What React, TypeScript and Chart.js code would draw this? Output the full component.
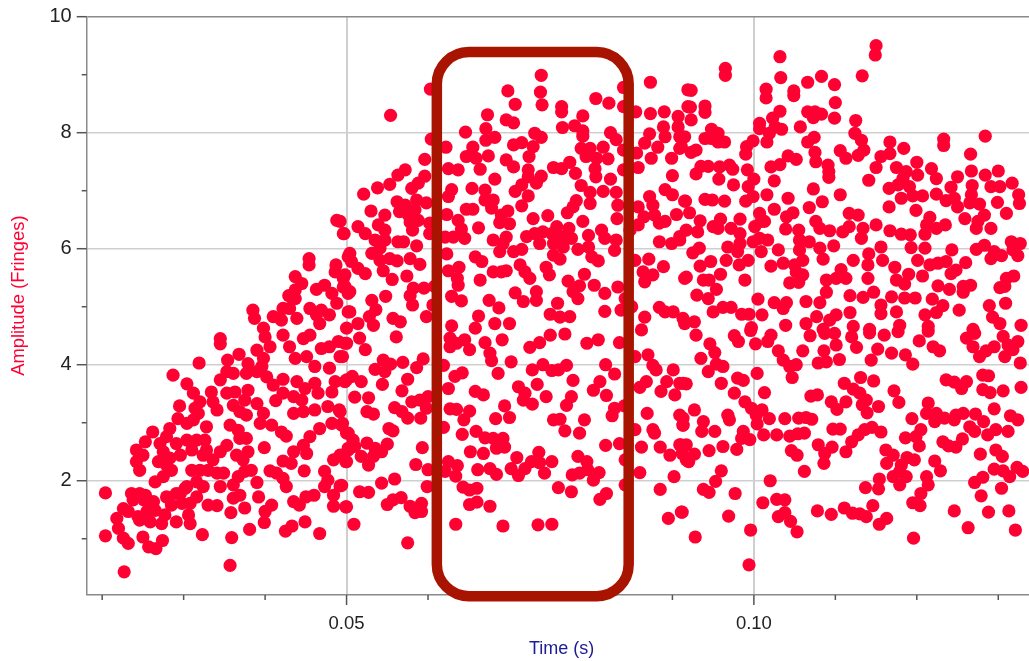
import React, { useEffect, useRef } from "react";
import { Chart, registerables } from "chart.js";

Chart.register(...registerables);

type Sample = [number, number]; // [time in ms, amplitude in fringes]

const risingEdgeLower: Sample[] = [
[20.4,1.79],[20.4,1.05],[22.7,.43],[31.9,4.03],[28.7,3.82],[34.5,4.45],[34.5,4.36],[30.4,3.67],[31.2,3.51],[29.5,3.29],[23.6,1.78],[24.6,1.78],[25.3,1.75],[23.8,1.67],[25.1,1.67],[26.3,1.64],[22.6,1.52],[21.8,1.35],[23.2,1.47],[24.4,1.38],[25.5,1.47],[26.5,1.49],[22,1.18],[22.6,1.01],[23.2,.92],[25,1.03],[25.7,.86],[26.6,.83],[27.4,.97],[24.6,1.32],[25.9,1.29],[27.3,1.26],[27.7,1.41],[27.9,1.72],[29.1,1.78],[30.2,1.87],[28.5,1.58],[29.8,1.61],[30.8,1.61],[31.6,1.72],[29.1,1.29],[30.6,1.41],[30.8,1.26],[32.3,1.07],[33,1.58],[34.1,1.57],[35.8,1.45],[35.9,1.02],[35.7,.54],[38.1,1.16],[37.5,1.53],[36.1,1.7],[36.9,1.75],[39.2,1.72],[40.8,1.58],[40,1.47],[39.9,1.28],[42.5,1.13],[43.3,1.22],[44.9,1.29],[46.7,1.09],[43.5,1.64],[44.2,1.58],[45,1.72],[46,1.75],[48.4,1.56],[50,1.55],[48.4,1.75],[47.3,1.9],[47.7,2.01],[47.3,2.16],[49.2,1.91],[44.8,2.17],[42.6,1.9],[42.2,2.04],[41.4,2.13],[40.6,2.17],[42.2,2.34],[43.2,2.3],[43.5,2.5],[45.1,2.47],[44.7,2.61],[45.5,2.76],[46.7,2.9],[48.2,2.99],[49.4,2.96],[50.2,2.82],[48.4,2.36],[49.2,2.44],[50.2,2.53],[50,2.33],[39.9,2.57],[39,1.97],[38.3,2.18],[37.5,2.16],[36.7,2.07],[36.1,1.93],[34.5,1.9],[34.1,2.13],[34.9,2.13],[33,2.18],[32,2.18],[31,2.18],[33.6,2.36],[34.5,2.5],[35.3,2.61],[36.5,2.44],[37.9,2.5],[37.3,2.36],[37.7,2.73],[36.7,2.87],[35.7,2.96],[36.9,2.73],[32.4,1.9],[31.6,1.98],[30.4,1.9],[29.6,1.78],[27.5,2.07],[26.5,1.98],[28.5,2.18],[24.6,2.18],[24.2,2.33],[24.2,2.53],[25.3,2.67],[26.2,2.84],[25,2.44],[27.1,2.64],[27.9,2.76],[28.3,2.9],[29.3,3.07],[30.4,2.99],[31.2,3.05],[32.8,2.93],[32.6,2.7],[31.6,2.7],[30.4,2.7],[29.1,2.64],[27.5,2.5],[26.9,2.33],[28.3,2.39],[29.6,2.44],[31,2.53],[32.4,2.44],[27.9,2.27],[32.8,2.53],[31.4,3.25],[32,3.36],[31.8,3.16],[33.4,3.53],[33.6,3.36],[34.1,3.22],[35.3,3.88],[35.4,4.08],[36.8,4.18],[34.5,3.74],[36.1,3.85],[37.9,4.02],[39,4.25],[40,4.48],[40.6,4.31],[39.8,4.11],[39.6,3.97],[37.7,3.85],[39,3.88],[40.2,3.79],[41,3.65],[42.2,3.75],[43.9,3.71],[46.1,3.68],[48.6,3.71],[50,3.74],[48.2,3.53],[46.5,3.51],[44.9,3.59],[42.2,3.51],[41.3,3.38],[43.5,3.45],[44.5,3.39],[43.5,3.16],[44.7,3.19],[46.1,3.22],[47.7,3.28],[49.1,3.22],[36.3,3.53],[35.3,3.51],[37.9,3.56],[37.5,3.39],[39,3.33],[36.1,3.3],[36.9,3.19],[37.7,3.13],[39.8,3.16],[39.4,2.99],[40.8,2.96],[42,2.84],[42.6,2.77],[43.7,4.11],[45.1,4.14],[46.1,3.97],[47.9,3.94],[46.9,4.28],[47.9,4.31],[49,4.4],[49.2,4.14],[43,4.31],[42.2,4.51],[44.7,4.45],[45.5,4.51],[50,4.37],
];

const risingEdgeUpper: Sample[] = [
[48.8,6.49],[49.6,6.26],[45.4,5.83],[45.4,5.72],[50.2,5.86],[48.7,5.72],[48.6,5.6],[49.8,5.55],[43.7,5.52],[44.5,5.4],[43.7,5.29],[42.9,5.19],[43.7,5.14],[46.3,5.3],[47.3,5.37],[48.2,5.23],[48.8,5.06],[49.6,5.34],[50.2,5.23],[45.5,4.97],[46.3,4.86],[46.9,4.94],[47.9,4.86],[50.2,4.91],[46.7,4.71],[38.5,4.94],[38.7,4.8],[41,4.83],[42.2,4.97],[43,4.97],[43.9,4.8],[42,4.77],[39.8,4.63],[50,4.63],
];

const middleUpper: Sample[] = [
[55.4,8.3],[60.3,8.75],[60.4,7.89],[73.9,8.99],[73.8,8.7],[74,8.48],[69.8,8.72],[70.7,8.49],[76.4,8.45],[76.4,8.36],[80.6,8.59],[82.2,8.51],[84,8.78],[84,8.45],[87.3,8.87],[79,8.29],[67.3,8.31],[64.6,8.01],[67.1,8.07],[67.1,7.87],[68.2,7.92],[69.6,8.22],[70.5,8.17],[76.5,8.09],[78,8.12],[79,8.03],[79,7.94],[82.4,8],[83.1,7.88],[73.1,7.99],[73.9,7.92],[72.9,7.76],[70.5,7.79],[71.5,7.83],[72.4,7.59],[65.5,7.75],[64.7,7.59],[65.9,7.56],[67.4,7.6],[66.4,7.37],[62.2,7.75],[62.5,7.38],[63.7,7.36],[69.6,7.53],[70.5,7.41],[59.6,7.54],[75.4,7.4],[76.4,7.38],[77.4,7.49],[78.1,7.3],[72.3,7.36],[73.9,7.25],[73.3,7.13],[72.3,7.24],[68.2,7.2],[71.5,7.1],[70.7,6.99],[72.3,6.91],[71.5,6.74],[78.8,7.73],[79.9,7.73],[81.5,7.75],[79.4,7.59],[80.7,7.56],[82.1,7.55],[80.5,7.38],[80.6,7.24],[82.4,7.2],[84,7.7],[84,7.36],[85.8,7.4],[85.6,7.65],[86.6,7.82],[87.2,7.98],[87.4,7.56],[88.2,7.75],[88.9,8.1],[89.1,7.93],[90.7,8.28],[90.7,8.1],[90.9,7.93],[89.9,7.56],[90.9,7.73],[85.5,8.36],[87.3,8.33],[89,8.36],[91.9,8.74],[91.9,8.45],[90,7.26],[89.1,7.02],[90,6.93],[91.5,6.82],[87.2,6.9],[87.6,6.75],[87.8,6.58],[89.1,6.47],[90.5,6.59],[88.4,6.44],[85.8,6.72],[85.8,6.41],[86.5,6.55],[88.4,6.12],[89.9,6.09],[90.9,6.21],[83.3,6.75],[83.2,6.52],[81.5,6.99],[83.1,6.97],[78.8,7.09],[79.9,6.97],[79.9,6.78],[78.2,6.83],[77.8,6.72],[77.1,6.62],[79,6.47],[74.7,6.57],[72.9,6.52],[67,7.01],[65.4,7.04],[68,6.84],[62.9,7.02],[62.5,6.9],[64.7,6.68],[65.5,6.68],[67,6.84],[67.8,6.7],[69.8,6.65],[69,6.58],[68.8,6.45],[70,6.43],[62.3,6.59],[63.7,6.49],[66.2,6.36],[64.1,6.34],[64.5,6.18],[63.1,6.2],[62.1,6.2],[69.6,6.2],[68,6.15],[68.8,5.95],[69.2,6.09],[70.5,5.95],[71.5,5.99],[72.1,6.21],[73.1,6.26],[74.1,6.29],[73.7,6.09],[75.2,6.26],[75.8,6.38],[77.3,6.35],[76.4,6.21],[77.6,6.18],[75.4,6.09],[76.6,6.03],[75.4,5.89],[76.2,5.82],[78.4,5.99],[79.7,6.03],[79.7,6.23],[81.3,6.32],[81.7,6.18],[82.9,5.97],[83.1,6.15],[80.1,5.86],[80.9,5.79],[84.8,6.32],[62.3,5.91],[65.8,5.86],[66.6,5.78],[62.5,5.62],[63.8,5.68],[63.6,5.49],[63.7,5.37],[68,5.6],[69,5.6],[69.6,5.62],[66.4,5.46],[71.3,5.72],[71.9,5.6],[72.5,5.49],[74.5,5.68],[74.9,5.55],[77.2,5.44],[79.2,5.56],[78.6,5.36],[77.8,5.26],[78.4,5.14],[80.4,5.37],[81.7,5.23],[83.3,5.34],[84.2,5.14],[62.9,5.18],[64.1,5.1],[70.7,5.24],[71.7,5.09],[73.3,5.26],[73.3,5.11],[67.5,5.11],[68.7,4.98],[75.9,5.06],[75,4.87],[77.4,4.83],[76.2,4.82],[66.2,4.84],[81.7,4.92],[83.7,4.94],[85,5],[86.6,4.82],[88.4,4.99],[90.1,4.91],[89.1,4.91],[91.3,4.8],[85.4,5.8],[87.1,5.82],[88.9,5.69],[86.4,5.6],[87.6,5.55],[86.6,5.43],[91.5,5.49],
[52.1,6.94],[53.8,7.05],[53,6.65],[55.3,7.11],[56.3,7.27],[57.2,7.36],[59.6,7.25],[58.8,7.13],[58,7.04],[56.2,6.81],[57.2,6.75],[58.6,6.84],[59.8,6.79],[56.5,6.64],[54.7,6.58],[57.6,6.58],[58.4,6.67],[57.8,6.46],[58.8,6.49],[58.1,6.32],[60.2,6.44],[60.2,6.26],[53.9,6.41],[54.7,6.32],[51.4,6.38],[49.7,6.26],[49.2,6.47],[52.3,6.26],[53.5,6.15],[54.7,6.15],[56.3,6.12],[57,6.12],[53.1,5.92],[54.1,6.01],[58.6,6.05],[50.4,5.92],[50.6,5.78],[51.4,5.66],[52.3,5.57],[54.1,5.8],[54.5,5.62],[55.3,5.83],[56.2,5.79],[55.6,5.47],[57.8,5.83],[59,5.73],[57.4,5.53],[49.6,5.49],[49.8,5.35],[50.4,5.26],[58.2,5.32],[59.5,5.32],[57.8,5.19],[58.1,5.03],[54.8,5.18],[53.1,5.11],[53.6,4.95],[50.4,4.91],[52.8,4.83],[55.7,4.8],[56.6,4.74],[59.8,4.83],[60.8,5.35],[60.6,5.03],[51.4,4.71],[53.3,4.68],[62.9,4.67],[65.8,4.63],[68.2,4.71],[70,4.71],
];

const middleLower: Sample[] = [
[49.8,4.37],[51.6,4.46],[52.3,4.26],[56.1,4.48],[49.5,4.14],[54.5,4.08],[53.5,3.92],[54.7,3.88],[55.4,4.01],[56.9,4.04],[58.6,3.95],[59.4,4.1],[57.5,3.75],[54.4,3.66],[50.7,3.8],[49.8,3.71],[51.8,3.71],[56.8,3.55],[51,3.44],[52.7,3.43],[55.9,3.26],[52.5,3.19],[53.3,3.15],[56.8,3.19],[57.5,3.08],[59.1,3.08],[58,3.36],[59,3.39],[60,3.45],[59.8,3.25],[49.2,3.19],[49.5,2.99],[55.2,2.9],[55.7,2.86],[50,2.82],[50.8,2.7],[52.5,2.65],[55,2.63],[50.2,2.56],[51,2.59],[59.3,2.57],[53.5,2.56],[54.3,2.5],[53.3,2.42],[51.8,2.42],[49.9,2.33],[52.7,2.27],[58.5,2.28],[60,2.19],[55.9,2.03],[54.3,1.96],[49.4,1.92],[51.6,1.81],[52.7,1.8],[59.9,1.9],[55,1.59],[55.7,1.67],[56.7,1.71],[57.8,1.56],[58.4,1.45],[59.2,1.47],[59.2,1.61],[49.9,1.55],[50.9,1.25],[57.5,.93],
[62.7,4.31],[63.5,4.37],[64.5,4.43],[65.1,4.26],[62.7,4.46],[67,4.38],[69.1,4.43],[67.6,4.2],[67.8,4.07],[70.2,4.05],[68.6,3.85],[72.5,4.3],[73.7,4.38],[75,4.51],[76.8,4.53],[79.5,4.37],[80.9,4.43],[83.5,4.38],[72.8,3.91],[74.1,4],[75.2,3.9],[76,3.91],[77,3.99],[77.8,3.73],[73.4,3.66],[74.5,3.45],[71.1,3.62],[71.9,3.51],[71.7,3.39],[72.8,3.32],[69.4,3.29],[70,3.09],[68.3,3.07],[65.8,3.54],[66.8,3.48],[62.5,3.59],[63.3,3.8],[64.2,3.86],[61.9,3.99],[62.7,3.24],[63.5,3.23],[65.1,3.2],[64.4,3.05],[61.9,2.92],[64.2,2.8],[65.9,2.85],[67,2.74],[68,2.73],[69.2,2.73],[68.4,2.56],[69.4,2.58],[65.2,2.5],[66.8,2.47],[62.5,2.33],[63.6,2.26],[63.4,2.08],[62.1,2.16],[66.1,2.19],[67.6,2.21],[68.4,2.11],[70.2,2.21],[70.9,2.4],[71.1,2.09],[71.9,2.21],[72.7,2.33],[73.6,2.49],[73.7,2.31],[75.2,2.33],[74.3,2.13],[75.4,3.05],[76.2,3.06],[76.8,2.86],[78.6,2.82],[79.2,3.05],[77,3.3],[77.6,3.45],[80.3,3.56],[81.1,3.71],[81.9,3.47],[81.8,4],[82.9,3.84],[82.9,3.25],[82.6,3.12],[84.1,3.29],[81.8,2.61],[83.5,2.64],[84.2,2.36],[78.4,2.42],[79.5,2.33],[77.7,2.1],[78.6,2.13],[79.6,2.19],[80.3,2.01],[81,2.14],[76,1.88],[77.6,1.81],[81.1,1.68],[81.9,1.78],[84.2,1.93],[64.3,1.89],[65.1,1.84],[66,1.87],[65.1,1.59],[66,1.63],[67.6,1.56],[63.4,1.25],[69.2,1.22],[73.5,1.24],[75.2,1.25],
[85.4,2.88],[85.4,4.14],[87,4.17],[87.6,3.99],[88,3.91],[90.1,3.91],[86.8,3.71],[86,3.61],[88.6,3.54],[89.3,3.71],[90.3,3.48],[91.3,3.68],[86.9,3.16],[90.9,3.13],[91.3,2.96],[87.6,2.88],[87.8,2.82],[86.2,2.58],[88.5,2.58],[89.7,2.44],[91,2.62],[91.7,2.36],[86,2.14],[90.2,2.07],[88.5,1.85],[89.5,1.35],[91.1,1.46],[86.2,4.6],
];

const fallingUpper: Sample[] = [
[115,9.5],[114.9,9.34],[103.2,9.31],[96.5,9.11],[96.5,8.99],[103.3,8.95],[113.3,8.98],[108.3,8.97],[106.6,8.87],[109.9,8.83],[92.3,8.73],[101.5,8.75],[101.5,8.6],[104.9,8.72],[104.9,8.64],[110,8.52],[92.2,8.44],[94,8.46],[94,8.35],[103.2,8.37],[106.6,8.36],[107.5,8.36],[108.3,8.32],[107.3,8.26],[109.9,8.25],[112.5,8.21],[92.3,8.22],[100.7,8.16],[100.7,8.07],[102.3,8.25],[102.6,8.1],[103.4,8.06],[101.9,7.99],[105.7,8.1],[94.8,8.06],[95.6,7.99],[94,7.9],[94.8,7.9],[96.4,7.84],[95.6,7.84],[91.5,7.93],[112.4,7.99],[113.2,7.87],[107.4,7.92],[106.6,7.84],[99.9,7.86],[99.1,7.76],[99,7.63],[101.6,7.84],[92.9,7.7],[92.3,7.66],[91.1,7.76],[116.7,7.84],[118.4,7.73],[123.3,7.89],[123.3,7.78],[128.4,7.94],[126.6,7.63],[110.6,7.69],[113.5,7.7],[111.3,7.56],[112.8,7.61],[107.5,7.66],[107.6,7.5],[104.2,7.6],[105.2,7.54],[103.2,7.45],[102.1,7.41],[116.7,7.64],[115.6,7.59],[115,7.4],[114.1,7.18],[97,7.44],[97.4,7.37],[95.8,7.41],[94.4,7.42],[93.5,7.42],[92.9,7.29],[95.7,7.2],[99.2,7.36],[100,7.2],[97.5,7.1],[99.3,7.07],[109.1,7.44],[109.2,7.33],[109.2,7.23],[102.5,7.17],[120,7.49],[117.5,7.4],[118.7,7.33],[120.1,7.27],[118.3,7.21],[121.8,7.38],[122.4,7.21],[125,7.24],[126.7,7.34],[128.4,7.27],[130,7.34],[116.6,7.04],[117.7,7.1],[119.1,7.07],[124.2,7.06],[126.8,7.09],[129.1,7.07],[130.2,7.07],[131.7,7.13],[107.3,7.03],[110.6,6.93],[101.6,6.93],[99.9,6.9],[99,6.82],[104.2,6.87],[108.4,6.81],[106.8,6.71],[102.5,6.68],[94,6.85],[94.9,6.84],[96.4,6.82],[91.6,6.82],[118.1,6.87],[119.5,6.91],[120.7,6.91],[122.4,6.94],[123.6,6.83],[124.6,6.87],[126.7,6.93],[126.5,6.79],[127.7,6.77],[125,6.72],[125.9,6.52],[116.6,6.72],[119.9,6.66],[132.5,6.93],[132.6,6.78],[129.9,6.8],[131,6.61],[111.7,6.61],[112.8,6.58],[92.1,6.62],[93.4,6.48],[100.7,6.61],[104.8,6.62],[104,6.55],[98.3,6.51],[95.9,6.51],[101.3,6.47],[107.6,6.47],[121.6,6.54],[123.5,6.41],[128.3,6.58],[127.5,6.47],[121.2,6.41],[122.4,6.35],[121,6.25],[127.3,6.35],[129.1,6.35],[91.7,6.32],[93.1,6.29],[95,6.38],[95.6,6.35],[97.2,6.35],[100.1,6.38],[100.9,6.47],[103.9,6.34],[105.5,6.32],[108.1,6.35],[109.3,6.31],[110.9,6.29],[111.7,6.38],[113.4,6.35],[115,6.41],[116.7,6.31],[118.1,6.25],[119.2,6.24],[113.2,6.18],[98.3,6.26],[90.9,6.15],[106.8,6.12],[105.6,6.15],[101.7,6.15],[99.9,6.12],[100.7,6.18],[98.3,6.09],[96.8,6.03],[109.8,6.05],[115.6,6.03],[119.3,6.02],[121,6.01],[131.6,6.12],[132.7,6.09],[127.3,5.99],[128.3,6.06],[129.5,5.95],[130.4,5.88],[129.1,5.83],[131.8,5.98],[132.4,5.88],[93.3,6.01],[92.5,5.93],[103,5.98],[100.9,5.95],[98,5.95],[96.6,5.8],[108.1,6.01],[105.6,5.98],[108.5,5.82],[112.2,5.8],[114.1,5.91],[115.8,5.8],[117.3,5.68],[120.1,5.8],[124.3,5.98],[126,5.76],[124.8,5.63],[124.2,5.57],[123.6,5.78],[122.6,5.75],[121.6,5.72],[94.7,5.78],[93.4,5.7],[99.3,5.8],[98.2,5.72],[102.1,5.7],[103.6,5.75],[105,5.72],[106,5.8],[95.9,5.56],[91.7,5.51],[93.8,5.46],[94.5,5.46],[98.9,5.46],[105.2,5.6],[106,5.55],[104.4,5.41],[105.5,5.42],[110.7,5.64],[111.3,5.49],[110.1,5.49],[108.9,5.46],[114,5.72],[114,5.49],[117.5,5.46],[118.5,5.39],[119,5.56],[120.7,5.53],[131.9,5.53],[131,5.49],[130.8,5.35],[130.2,5.33],[126.6,5.37],[125.7,5.35],[125.7,5.25],[122.6,5.36],[124,5.3],[95.4,5.3],[93,5.2],[94.4,5.14],[108.9,5.25],[108.1,5.07],[106.4,5.09],[111.8,5.19],[113.4,5.16],[114.7,5.25],[115.6,5.03],[116.9,5.17],[118.5,5.15],[119.8,5.15],[121.9,5.13],[100.5,5.13],[102.5,5.07],[104,5.07],[103.6,4.97],[123.2,5.02],[122.4,4.9],[125.2,4.94],[128.9,5.02],[130.9,5.06],[95,4.91],[96.2,4.99],[97.2,4.99],[98.5,4.87],[99.4,4.87],[101,4.86],[107.7,4.83],[110.1,4.86],[111.8,4.9],[115.6,4.88],[117.5,4.91],[121,4.86],[129.3,4.82],[130.2,4.71],[132.8,4.68],[92.7,4.74],[91.5,4.71],[99.7,4.64],[103.9,4.68],[106.4,4.71],[109.3,4.77],[108.5,4.61],[112.2,4.66],[114.2,4.61],[117.9,4.68],[121.4,4.66],[126.9,4.61],
];

const fallingLower: Sample[] = [
[92.9,4.51],[94.6,4.36],[95.2,4.21],[93.5,4.11],[97.6,4.5],[98.1,4.4],[99.6,4.59],[100.2,4.36],[102.1,4.51],[101.7,4.4],[103,4.24],[103.6,4.08],[104.4,3.97],[105.2,4],[106,4.24],[106.9,4.5],[108.7,4.54],[109.9,4.54],[110.1,4.34],[108.6,4.24],[110.5,4.09],[108.9,4.05],[107.9,4.03],[112,4.48],[112.6,4.3],[114.2,4.55],[115.2,4.27],[114.4,4.08],[116,4.51],[117.7,4.57],[116.9,4.2],[118.6,4.17],[119.5,4.01],[120.3,4.41],[121.4,4.58],[122,4.31],[122.8,4.24],[126.1,4.46],[126.9,4.31],[127.7,4.14],[128.5,4.24],[129.5,4.31],[130.6,4.49],[130.8,4.14],[131.8,4.26],[132.4,4.4],[131.2,4.34],[132.7,4.03],[127.1,4.54],[94.4,3.88],[95.4,4.01],[96.2,3.97],[100.4,3.85],[96,3.68],[98,3.77],[98.7,3.73],[104.7,3.78],[91.7,3.67],[90.9,3.68],[97.6,3.51],[101.3,3.52],[98.9,3.36],[99.7,3.25],[101,3.22],[100.3,3.13],[101.9,3.07],[100.4,2.98],[103.8,3.07],[105.5,3.08],[106.4,3.09],[107.1,3.06],[107,3.46],[107.8,3.48],[109.5,3.36],[110.2,3.23],[111.3,3.36],[111.1,3.68],[112.2,3.58],[113.1,3.78],[114.7,3.72],[113,3.51],[113.8,3.39],[113.3,3.31],[113.9,3.17],[115.3,3.28],[117.2,3.55],[117.8,3.35],[123.6,3.74],[124.6,3.7],[125.5,3.59],[126.1,3.71],[128.1,3.82],[128.8,3.81],[128.1,3.57],[129,3.52],[130.6,3.55],[132.8,3.61],[121.4,3.34],[121.2,3.16],[122.4,3.16],[122.2,3.02],[123.4,3.08],[124.6,3.05],[124.8,3.13],[125.7,3.16],[127.2,3.15],[128.2,3.02],[129.5,3.24],[131.5,3.12],[132.4,3.05],[119.4,3.07],[92.7,3.22],[93.8,3.02],[96.8,3.13],[97,3.05],[91.3,3.08],[91.3,2.96],[93.6,2.85],[95.2,2.85],[98.7,2.85],[98.5,2.73],[99.5,2.71],[96.2,2.59],[94.5,2.52],[97.9,2.54],[101.2,2.79],[102.8,2.79],[104.4,2.77],[105.4,2.81],[106.2,2.82],[109.7,2.89],[110.6,2.89],[107.9,2.62],[109.6,2.58],[108.7,2.47],[108.6,2.3],[104.6,2.52],[105.3,2.44],[106.2,2.16],[111.3,2.5],[112,2.67],[112.8,2.79],[113.6,2.88],[114.5,2.92],[115.6,2.84],[118.6,2.74],[119.9,2.76],[120.5,2.88],[120.3,2.6],[126.5,2.93],[127.1,2.85],[128.7,2.79],[129.7,2.88],[131.2,2.85],[123.2,2.67],[123.9,2.6],[124.8,2.58],[125.6,2.72],[127.8,2.46],[129.7,2.53],[130.5,2.42],[122.2,2.34],[122.9,2.17],[129.5,2.2],[130.6,2.17],[131.4,2.07],[132.3,2.23],[133,2.16],[116.2,2.53],[117.1,2.44],[116.3,2.3],[118.1,2.27],[118.8,2.4],[119.7,2.36],[117.9,2.16],[118.7,2.07],[117.1,2.07],[117.9,1.93],[115.4,2.03],[115.3,1.86],[113.7,1.88],[121.2,2.07],[121.4,1.93],[120.5,1.78],[119.5,1.62],[120.4,1.57],[127.1,1.97],[128.1,2.06],[130.4,1.87],[127.9,1.74],[96,2.17],[95.3,1.99],[93.8,1.85],[94.5,1.8],[97.7,1.78],[102,2],[92,2.33],[92.7,2.46],[91.7,2.62],[90.9,2.62],[91.2,2.47],[101.1,1.62],[102.8,1.68],[103.8,1.67],[103,1.38],[103.8,1.45],[104.5,1.3],[105.3,1.12],[107.8,1.48],[109.5,1.42],[111.1,1.53],[112.1,1.44],[113,1.43],[113.8,1.38],[114.6,1.57],[115.4,1.25],[116.3,1.35],[91.2,1.46],[96.9,1.39],[92.8,1.03],[99.6,1.15],[99.4,.55],[119.6,1.01],[124.6,1.48],[126.3,1.19],[128.8,1.46],[131.3,1.48],[132.1,1.15],
];

const xMajorTicks = [0.05, 0.1];
const yMajorTicks = [2, 4, 6, 8, 10];
const xAxisTitle = "Time (s)";
const yAxisTitle = "Amplitude (Fringes)";
const highlightWindow = { timeStart: 0.06108, timeEnd: 0.08463, ampLow: 0.01, ampHigh: 9.39 };

const isIn = (list: number[], v: number) => list.some((m) => Math.abs(m - v) < 1e-6);
const noScalePadding = (s: any) => {
  s.paddingLeft = 0;
  s.paddingRight = 0;
  s.paddingTop = 0;
  s.paddingBottom = 0;
};

const tickMarks = {
  id: "tickMarks",
  beforeDatasetsDraw(chart: any) {
    const { ctx, scales } = chart;
    ctx.save();
    ctx.strokeStyle = "#555";
    ctx.lineWidth = 1.5;
    for (const t of scales.x.ticks) {
      const p = scales.x.getPixelForValue(t.value);
      ctx.beginPath();
      ctx.moveTo(p, scales.x.top);
      ctx.lineTo(p, scales.x.top + (isIn(xMajorTicks, t.value) ? 10 : 5));
      ctx.stroke();
    }
    for (const t of scales.y.ticks) {
      const p = scales.y.getPixelForValue(t.value);
      ctx.beginPath();
      ctx.moveTo(scales.y.right, p);
      ctx.lineTo(scales.y.right - (isIn(yMajorTicks, t.value) ? 10 : 5), p);
      ctx.stroke();
    }
    ctx.restore();
  },
};

const highlightBox = {
  id: "highlightBox",
  afterDatasetsDraw(chart: any) {
    const { ctx, scales } = chart;
    const x0 = scales.x.getPixelForValue(highlightWindow.timeStart);
    const x1 = scales.x.getPixelForValue(highlightWindow.timeEnd);
    const y0 = scales.y.getPixelForValue(highlightWindow.ampHigh);
    const y1 = scales.y.getPixelForValue(highlightWindow.ampLow);
    ctx.save();
    ctx.strokeStyle = "#A81400";
    ctx.lineWidth = 10.5;
    ctx.beginPath();
    ctx.roundRect(x0, y0, x1 - x0, y1 - y0, 32);
    ctx.stroke();
    ctx.restore();
  },
};

export default function App() {
  const ref = useRef<HTMLCanvasElement>(null);
  useEffect(() => {
    const samples = [...risingEdgeLower, ...risingEdgeUpper, ...middleUpper, ...middleLower, ...fallingUpper, ...fallingLower];
    const chart = new Chart(ref.current as HTMLCanvasElement, {
      type: "scatter",
      data: {
        datasets: [
          {
            label: yAxisTitle,
            data: samples.map(([ms, amp]) => ({ x: ms / 1000, y: amp })),
            backgroundColor: "#FF0033",
            borderWidth: 0,
            pointRadius: 6.6,
            clip: false,
          } as any,
        ],
      },
      options: {
        responsive: false,
        animation: false,
        layout: { padding: { top: 16.7, right: 0, left: 0, bottom: 0 } },
        plugins: { legend: { display: false }, tooltip: { enabled: false } },
        scales: {
          x: {
            type: "linear",
            min: 0.0181,
            max: 0.13468,
            afterFit: (s: any) => { s.height = 66; noScalePadding(s); },
            border: { color: "#8a8a8a", width: 1.5 },
            grid: {
              drawTicks: false,
              color: (c: any) => (isIn(xMajorTicks, c.tick.value) ? "#cfcfcf" : "rgba(0,0,0,0)"),
              lineWidth: (c: any) => (isIn(xMajorTicks, c.tick.value) ? 2 : 0),
            },
            ticks: {
              stepSize: 0.01,
              includeBounds: false,
              autoSkip: false,
              maxRotation: 0,
              padding: 18,
              color: "#222",
              font: { family: "'Liberation Sans'", size: 18.5 },
              callback: (v: any) => (isIn(xMajorTicks, Number(v)) ? Number(v).toFixed(2) : ""),
            },
            title: {
              display: true,
              text: xAxisTitle,
              color: "#1C1C96",
              font: { family: "'Liberation Sans'", size: 18 },
              padding: { top: 0, bottom: 1 },
            },
          },
          y: {
            type: "linear",
            min: 0.03,
            max: 10,
            afterFit: (s: any) => { s.width = 86.7; noScalePadding(s); },
            border: { color: "#8a8a8a", width: 1.5 },
            grid: {
              drawTicks: false,
              color: (c: any) => (c.tick.value === 10 ? "#8a8a8a" : isIn(yMajorTicks, c.tick.value) ? "#cfcfcf" : "rgba(0,0,0,0)"),
              lineWidth: (c: any) => (isIn(yMajorTicks, c.tick.value) ? 1.5 : 0),
            },
            ticks: {
              stepSize: 1,
              includeBounds: false,
              autoSkip: false,
              padding: 15,
              color: "#222",
              font: { family: "'Liberation Sans'", size: 20 },
              callback: (v: any) => (isIn(yMajorTicks, Number(v)) ? String(v) : ""),
            },
            title: {
              display: true,
              text: "    " + yAxisTitle,
              color: "#FF0033",
              font: { family: "'Liberation Sans'", size: 18.4 },
              padding: { top: 8, bottom: 0 },
            },
          },
        },
      },
      plugins: [tickMarks, highlightBox],
    } as any);
    return () => chart.destroy();
  }, []);
  return (
    <div style={{ position: "fixed", left: 0, top: 0, width: 1029, height: 661, overflow: "hidden", background: "#fff" }}>
      <canvas ref={ref} width={1043} height={661} style={{ display: "block" }} />
    </div>
  );
}
